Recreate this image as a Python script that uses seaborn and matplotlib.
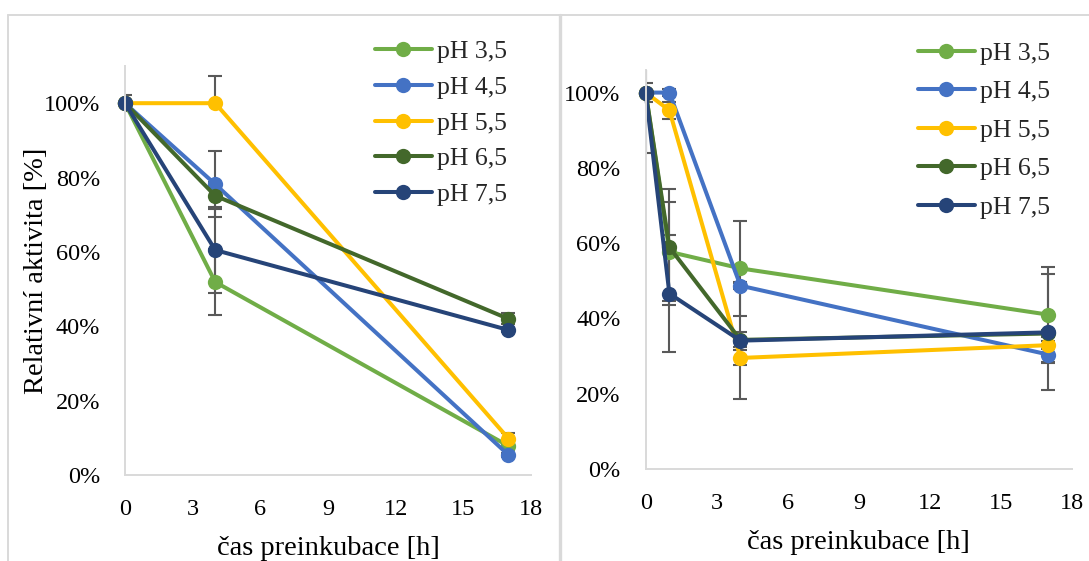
import matplotlib
matplotlib.use("Agg")
import matplotlib.pyplot as plt
import numpy as np
import pandas as pd
import seaborn as sns
from matplotlib.lines import Line2D
from matplotlib.ticker import PercentFormatter

# ---------------- data ----------------
series = ["pH 3,5", "pH 4,5", "pH 5,5", "pH 6,5", "pH 7,5"]
colors = ["#70AD47", "#4472C4", "#FFC000", "#43682B", "#264478"]

# left chart
left_time = [0, 4, 17]
left_ph35 = [1.00, 0.519, 0.078]
left_ph45 = [1.00, 0.782, 0.054]
left_ph55 = [1.00, 1.00, 0.098]
left_ph65 = [1.00, 0.751, 0.420]
left_ph75 = [1.00, 0.605, 0.390]
left_err_ph35 = [0.005, 0.089, 0.010]
left_err_ph45 = [0.005, 0.089, 0.005]
left_err_ph55_low = [0.005, 0.000, 0.014]
left_err_ph55_high = [0.005, 0.073, 0.014]
left_err_ph65 = [0.022, 0.036, 0.015]
left_err_ph75 = [0.005, 0.116, 0.005]

# right chart
right_time = [0, 1, 4, 17]
right_ph35 = [1.00, 0.577, 0.533, 0.410]
right_ph45 = [1.00, 1.00, 0.487, 0.304]
right_ph55 = [1.00, 0.953, 0.295, 0.329]
right_ph65 = [1.00, 0.589, 0.343, 0.360]
right_ph75 = [1.00, 0.466, 0.341, 0.363]
right_err_ph35 = [0.160, 0.131, 0.127, 0.126]
right_err_ph45 = [0.005, 0.010, 0.010, 0.023]
right_err_ph55 = [0.025, 0.023, 0.020, 0.010]
right_err_ph65 = [0.005, 0.154, 0.020, 0.010]
right_err_ph75 = [0.005, 0.156, 0.154, 0.154]

x_ticks = [0, 3, 6, 9, 12, 15, 18]
y_ticks = [0.0, 0.2, 0.4, 0.6, 0.8, 1.0]
x_label = "čas preinkubace [h]"
y_label = "Relativní aktivita [%]"

# ---------------- style ----------------
sns.set_style("white")
plt.rcParams["font.family"] = ["Liberation Serif", "DejaVu Serif"]

W, H = 1089, 561
fig = plt.figure(figsize=(W / 100, H / 100), dpi=100)

ax1 = fig.add_axes([125 / W, 1 - 475 / H, 406 / W, 409 / H])
ax2 = fig.add_axes([645.7 / W, 1 - 469 / H, 426.3 / W, 399 / H])

AXIS_COL = "#D9D9D9"
ERR_COL = "#595959"


def long_df(time, vals):
    rows = []
    for name, v in zip(series, vals):
        for t, y in zip(time, v):
            rows.append({"t": t, "y": y, "s": name})
    return pd.DataFrame(rows)


def draw(ax, time, vals, errs_low, errs_high, ymax):
    df = long_df(time, vals)
    for lo, hi, v in zip(errs_low, errs_high, vals):
        ax.errorbar(time, v, yerr=[lo, hi], fmt="none", ecolor=ERR_COL,
                    elinewidth=1.5, capsize=5, capthick=1.5, zorder=1.5)
    sns.lineplot(data=df, x="t", y="y", hue="s", hue_order=series,
                 palette=colors, marker="o", markersize=11, markeredgewidth=0,
                 linewidth=2.9, legend=False, ax=ax, clip_on=False,
                 errorbar=None, sort=False)
    ax.set_xlim(0, 18)
    ax.set_ylim(0, ymax)
    ax.set_xticks(x_ticks)
    ax.set_yticks(y_ticks)
    ax.yaxis.set_major_formatter(PercentFormatter(1.0, decimals=0))
    for sp in ["top", "right"]:
        ax.spines[sp].set_visible(False)
    for sp in ["left", "bottom"]:
        ax.spines[sp].set_color(AXIS_COL)
        ax.spines[sp].set_linewidth(1.4)
    ax.tick_params(axis="both", length=0, labelsize=17.5, colors="black")
    ax.tick_params(axis="y", pad=18)
    ax.tick_params(axis="x", pad=17)
    ax.set_xlabel(x_label, fontsize=20.5, color="black", labelpad=12)
    ax.set_ylabel("")
    ax.grid(False)
    ax.set_facecolor("none")


draw(ax1, left_time,
     [left_ph35, left_ph45, left_ph55, left_ph65, left_ph75],
     [left_err_ph35, left_err_ph45, left_err_ph55_low, left_err_ph65, left_err_ph75],
     [left_err_ph35, left_err_ph45, left_err_ph55_high, left_err_ph65, left_err_ph75],
     1.10)
ax1.set_ylabel(y_label, fontsize=20.5, color="black", labelpad=-4)

right_errs = [right_err_ph35, right_err_ph45, right_err_ph55, right_err_ph65, right_err_ph75]
draw(ax2, right_time,
     [right_ph35, right_ph45, right_ph55, right_ph65, right_ph75],
     right_errs, right_errs, 1.06)

# legends
handles = [Line2D([0], [0], color=c, lw=2.9, marker="o", markersize=11,
                  markeredgewidth=0) for c in colors]
fig.legend(handles, series, loc="upper left",
           bbox_to_anchor=(375 / W, 1 - 40 / H), frameon=False,
           fontsize=18.5, handlelength=2.2, handletextpad=0.2,
           labelspacing=0.5, borderpad=0, borderaxespad=0)
fig.legend(handles, series, loc="upper left",
           bbox_to_anchor=(918 / W, 1 - 42 / H), frameon=False,
           fontsize=18.5, handlelength=2.2, handletextpad=0.2,
           labelspacing=0.6, borderpad=0, borderaxespad=0)

# chart frames
fig.add_artist(Line2D([8 / W, 8 / W], [0, 1 - 15 / H], transform=fig.transFigure,
                      color=AXIS_COL, lw=1.4))
fig.add_artist(Line2D([8 / W, 1], [1 - 15 / H, 1 - 15 / H], transform=fig.transFigure,
                      color=AXIS_COL, lw=1.4))
fig.add_artist(Line2D([560 / W, 560 / W], [0, 1 - 15 / H], transform=fig.transFigure,
                      color=AXIS_COL, lw=2.4))

fig.savefig("out.png", dpi=100, facecolor="white")
